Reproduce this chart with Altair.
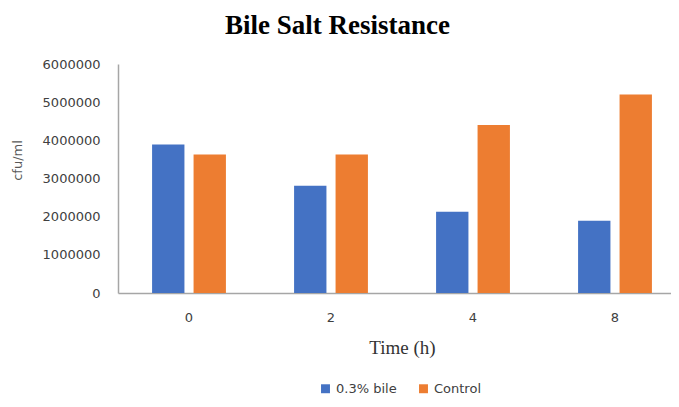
import altair as alt
import pandas as pd

times = ["0", "2", "4", "8"]
series = ["0.3% bile", "Control"]
bile = [3890000, 2810000, 2130000, 1890000]
control = [3630000, 3630000, 4400000, 5200000]
y_ticks = [0, 1000000, 2000000, 3000000, 4000000, 5000000, 6000000]
colors = ["#4472C4", "#ED7D31"]

rows = []
for t, b, c in zip(times, bile, control):
    rows.append({"time": t, "series": series[0], "value": b})
    rows.append({"time": t, "series": series[1], "value": c})
df = pd.DataFrame(rows)

chart = alt.Chart(df).mark_bar().encode(
    x=alt.X(
        "time:N",
        sort=times,
        scale=alt.Scale(range=[0, 568], paddingInner=0.48, paddingOuter=0.24),
        axis=alt.Axis(
            title="Time (h)",
            labelAngle=0,
            ticks=False,
            tickSize=0,
            labelPadding=18,
            labelFont="DejaVu Sans",
            labelFontSize=13,
            labelColor="#404040",
            titleFont="Liberation Serif",
            titleFontSize=19,
            titleFontWeight="normal",
            titleColor="#333333",
            titleY=54,
            titleBaseline="middle",
            domainColor="#a6a6a6",
            domainWidth=1.5,
            grid=False,
        ),
    ),
    xOffset=alt.XOffset(
        "series:N",
        sort=series,
        scale=alt.Scale(paddingInner=0.22, paddingOuter=0),
    ),
    y=alt.Y(
        "value:Q",
        scale=alt.Scale(domain=[0, 6000000], nice=False),
        axis=alt.Axis(
            title="cfu/ml",
            values=y_ticks,
            format="d",
            ticks=False,
            tickSize=0,
            labelPadding=18,
            labelFont="DejaVu Sans",
            labelFontSize=13,
            labelColor="#404040",
            titleFont="DejaVu Sans",
            titleFontSize=13,
            titleFontWeight="normal",
            titleColor="#595959",
            titleX=-101,
            titleY=96,
            titleAlign="center",
            titleBaseline="middle",
            domainColor="#a6a6a6",
            domainWidth=1.5,
            grid=False,
        ),
    ),
    color=alt.Color(
        "series:N",
        sort=series,
        scale=alt.Scale(domain=series, range=colors),
        legend=alt.Legend(
            title=None,
            orient="none",
            direction="horizontal",
            legendX=201,
            legendY=318,
            symbolType="square",
            symbolSize=80,
            symbolStrokeWidth=0,
            labelFont="DejaVu Sans",
            labelFontSize=13,
            labelColor="#404040",
            labelOffset=4,
            columnPadding=20,
        ),
    ),
).properties(
    width=553,
    height=229,
    padding={"left": 110, "top": 56, "right": 0, "bottom": 106},
    autosize=alt.AutoSizeParams(type="none"),
    title=alt.TitleParams(
        "Bile Salt Resistance",
        font="Liberation Serif",
        fontSize=27,
        fontWeight="bold",
        color="#000000",
        anchor="middle",
        dx=-57,
        offset=18,
    ),
).configure_view(stroke=None)

chart.save("out.html", embed_options={"renderer": "svg", "actions": False})
